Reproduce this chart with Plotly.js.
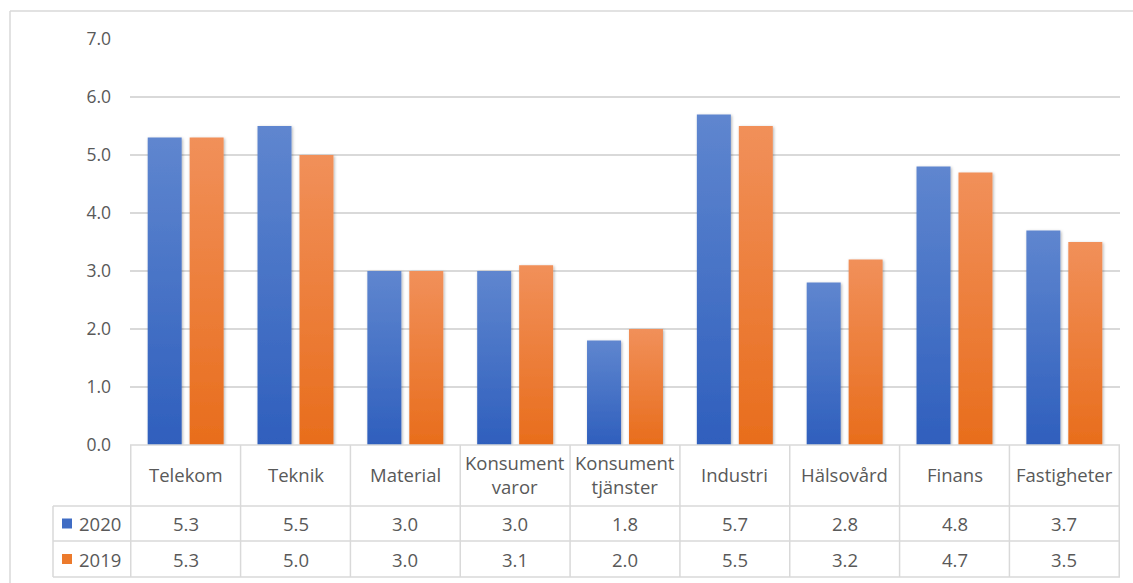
<!DOCTYPE html>
<html>
<head>
<meta charset="utf-8">
<script src="https://cdn.plot.ly/plotly-3.0.1.min.js"></script>
<style>
  html, body { margin: 0; padding: 0; background: #ffffff; }
  #chart { width: 1133px; height: 583px; }
</style>
</head>
<body>
<div id="chart"></div>
<script>
// Sector data: yield per sector, 2020 vs 2019
const categories = ['Telekom', 'Teknik', 'Material', 'Konsument<br>varor', 'Konsument<br>tjänster',
                    'Industri', 'Hälsovård', 'Finans', 'Fastigheter'];
const values2020 = [5.3, 5.5, 3.0, 3.0, 1.8, 5.7, 2.8, 4.8, 3.7];
const values2019 = [5.3, 5.0, 3.0, 3.1, 2.0, 5.5, 3.2, 4.7, 3.5];
const seriesNames = ['2020', '2019'];
const yTickValues = [0, 1, 2, 3, 4, 5, 6, 7];

// Layout geometry (pixels)
const W = 1133, H = 583;
const M = { l: 130, r: 13, t: 39, b: 138 };
const plotW = W - M.l - M.r;
const plotH = H - M.t - M.b;
const px2x = px => (px - M.l) / plotW;          // page x -> paper x
const py2y = py => (H - M.b - py) / plotH;      // page y -> paper y

const tableTop = H - M.b;          // table starts at the zero line
const headerBottom = tableTop + 61;
const row1Bottom = headerBottom + 35;
const row2Bottom = row1Bottom + 36;
const legendLeft = 53;

const textColor = '#595959';
const lineColor = '#d9d9d9';
const fontFamily = '"Open Sans", "Liberation Sans", sans-serif';
const seriesColors = ['#3f6cc4', '#ec7a2c'];

const traces = [
  { type: 'bar', name: seriesNames[0], x: categories, y: values2020,
    marker: { color: seriesColors[0], line: { width: 0 } }, hoverinfo: 'x+y' },
  { type: 'bar', name: seriesNames[1], x: categories, y: values2019,
    marker: { color: seriesColors[1], line: { width: 0 } }, hoverinfo: 'x+y' }
];

const shapes = [];
const annotations = [];
const hLine = (x0, x1, y, xref) => shapes.push({
  type: 'line', xref: xref || 'paper', yref: 'paper', x0: x0, x1: x1, y0: y, y1: y,
  line: { color: lineColor, width: 1.5 }, layer: 'above'
});
const vLine = (x, y0, y1, xref) => shapes.push({
  type: 'line', xref: xref || 'paper', yref: 'paper', x0: x, x1: x, y0: y0, y1: y1,
  line: { color: lineColor, width: 1.5 }, layer: 'above'
});

// Outer frame of the chart area
hLine(px2x(10), px2x(W + 20), py2y(11));
vLine(px2x(10), py2y(11), py2y(H + 20));

// Data table grid
hLine(0, 1, py2y(tableTop));
[headerBottom, row1Bottom, row2Bottom].forEach(py => hLine(px2x(legendLeft), 1, py2y(py)));
for (let i = 0; i <= categories.length; i++) {
  vLine(i - 0.5, py2y(tableTop), py2y(row2Bottom), 'x');
}
vLine(px2x(legendLeft), py2y(headerBottom), py2y(row2Bottom));

// Table text: category header and one row per series
const cellFont = { family: fontFamily, size: 18.5, color: textColor };
categories.forEach((c, i) => {
  annotations.push({ xref: 'x', yref: 'paper', x: i, y: py2y((tableTop + headerBottom) / 2 - 1),
    text: c, showarrow: false, font: cellFont, align: 'center', xanchor: 'center', yanchor: 'middle' });
});
[values2020, values2019].forEach((vals, s) => {
  const rowTop = s === 0 ? headerBottom : row1Bottom;
  const rowBot = s === 0 ? row1Bottom : row2Bottom;
  const yc = py2y((rowTop + rowBot) / 2);
  vals.forEach((v, i) => {
    annotations.push({ xref: 'x', yref: 'paper', x: i, y: yc, text: v.toFixed(1),
      showarrow: false, font: cellFont, xanchor: 'center', yanchor: 'middle' });
  });
  // legend key for the row
  shapes.push({ type: 'rect', xref: 'paper', yref: 'paper',
    x0: px2x(62), x1: px2x(72), y0: yc - 5 / plotH, y1: yc + 5 / plotH,
    fillcolor: seriesColors[s], line: { width: 0 }, layer: 'above' });
  annotations.push({ xref: 'paper', yref: 'paper', x: px2x(77), y: yc, text: seriesNames[s],
    showarrow: false, font: cellFont, xanchor: 'left', yanchor: 'middle' });
});

const layout = {
  width: W, height: H,
  margin: M,
  paper_bgcolor: '#ffffff', plot_bgcolor: '#ffffff',
  showlegend: false,
  barmode: 'group',
  bargap: 0.236,
  bargroupgap: 0.19,
  font: { family: fontFamily, color: textColor },
  xaxis: { type: 'category', showticklabels: false, showgrid: false, zeroline: false,
           showline: false, ticks: '', fixedrange: true },
  yaxis: { range: [0, 7], tickvals: yTickValues, tickformat: '.1f', showgrid: true,
           gridcolor: lineColor, gridwidth: 1.5, zeroline: false, showline: false, ticks: '',
           ticklabelstandoff: 18, tickfont: { family: fontFamily, size: 17.5, color: textColor },
           fixedrange: true },
  shapes: shapes,
  annotations: annotations
};

Plotly.newPlot('chart', traces, layout, { displayModeBar: false, staticPlot: true }).then(gd => {
  // Vertical gradient fill and soft shadow for the bars
  const svgNS = 'http://www.w3.org/2000/svg';
  const svg = gd.querySelector('svg.main-svg');
  const defs = document.createElementNS(svgNS, 'defs');
  const grads = [
    { id: 'barGradBlue', top: '#5f86cf', bottom: '#2f5fbd' },
    { id: 'barGradOrange', top: '#f1905a', bottom: '#e86d1c' }
  ];
  grads.forEach(g => {
    const lg = document.createElementNS(svgNS, 'linearGradient');
    lg.setAttribute('id', g.id);
    lg.setAttribute('x1', '0'); lg.setAttribute('y1', '0');
    lg.setAttribute('x2', '0'); lg.setAttribute('y2', '1');
    [[0, g.top], [1, g.bottom]].forEach(([o, c]) => {
      const st = document.createElementNS(svgNS, 'stop');
      st.setAttribute('offset', o);
      st.setAttribute('stop-color', c);
      lg.appendChild(st);
    });
    defs.appendChild(lg);
  });
  const filt = document.createElementNS(svgNS, 'filter');
  filt.setAttribute('id', 'barShadow');
  filt.setAttribute('x', '-20%'); filt.setAttribute('y', '-10%');
  filt.setAttribute('width', '140%'); filt.setAttribute('height', '120%');
  const ds = document.createElementNS(svgNS, 'feDropShadow');
  ds.setAttribute('dx', '1'); ds.setAttribute('dy', '1');
  ds.setAttribute('stdDeviation', '1.5');
  ds.setAttribute('flood-color', '#000000');
  ds.setAttribute('flood-opacity', '0.3');
  filt.appendChild(ds);
  defs.appendChild(filt);
  svg.insertBefore(defs, svg.firstChild);

  gd.querySelectorAll('.barlayer .trace').forEach((tr, t) => {
    tr.querySelectorAll('path').forEach(p => {
      p.style.fill = 'url(#' + grads[t].id + ')';
      p.setAttribute('filter', 'url(#barShadow)');
    });
  });
});
</script>
</body>
</html>
